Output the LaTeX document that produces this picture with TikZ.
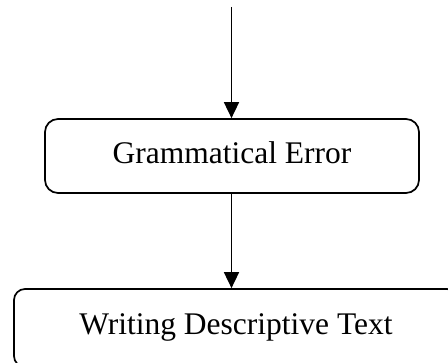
\documentclass[tikz,border=0pt]{standalone}
\usepackage{fontspec}
\setmainfont{Liberation Serif}
\usetikzlibrary{arrows.meta}
\begin{document}
\begin{tikzpicture}[x=1pt,y=-1pt,
  boxstyle/.style={draw,line width=1.7pt,rounded corners=13pt,inner sep=0pt,
    font=\fontsize{31.5}{36}\selectfont,text depth=7pt},
  flowarrow/.style={line width=1.7pt,-{Triangle[length=16pt,width=15pt]}}]
\useasboundingbox (0,0) rectangle (448,363);
\coordinate (top) at (231.5,7);
\node[boxstyle,minimum width=374pt,minimum height=74pt] (b1) at (232,156) {Grammatical Error};
\node[boxstyle,rounded corners=11pt,minimum width=444pt,minimum height=78pt] (b2) at (236,328) {Writing Descriptive Text};
\draw[flowarrow] (top) -- (top |- b1.north);
\draw[flowarrow] (top |- b1.south) -- (top |- b2.north);
\end{tikzpicture}
\end{document}
